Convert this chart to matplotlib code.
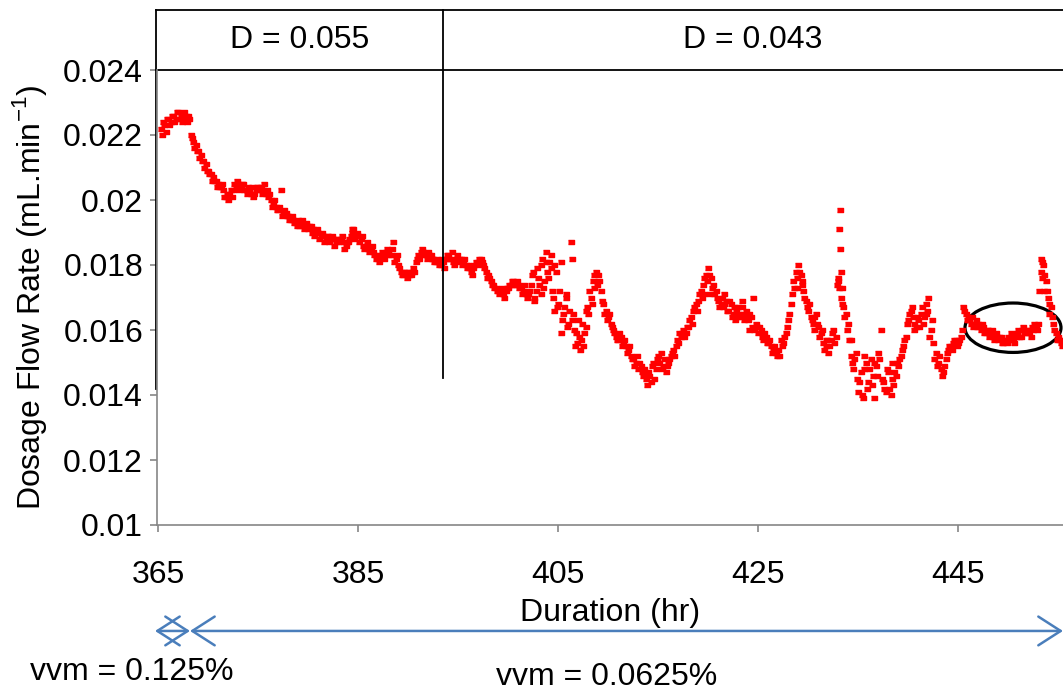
import numpy as np
import matplotlib
matplotlib.use('Agg')
import matplotlib.pyplot as plt
from matplotlib.patches import Ellipse

plt.rcParams['font.family'] = ['Liberation Sans', 'DejaVu Sans']
plt.rcParams['font.size'] = 23

#%% data (logger samples every 0.25 hr, first at 365.25 hr)

t_start = 365.25
t_step = 0.25
flow = [
    0.0222, 0.0224, 0.0221,                      # 365
    0.0225, 0.0224, 0.0226, 0.0225,              # 366
    0.0227, 0.0226, 0.0225, 0.0226,
    0.0226, 0.0220, 0.0218, 0.0217,
    0.0215, 0.0214, 0.0212, 0.0211,
    0.0209, 0.0208, 0.0207, 0.0206,              # 370
    0.0205, 0.0204, 0.0203, 0.0201,
    0.0200, 0.0203, 0.0203, 0.0204,
    0.0205, 0.0204, 0.0205, 0.0203,
    0.0204, 0.0202, 0.0201, 0.0203,
    0.0204, 0.0204, 0.0203, 0.0202,              # 375
    0.0201, 0.0200, 0.0199, 0.0198,
    0.0197, 0.0203, 0.0196, 0.0196,
    0.0195, 0.0194, 0.0194, 0.0193,
    0.0194, 0.0193, 0.0192, 0.0193,
    0.0191, 0.0192, 0.0191, 0.0190,              # 380
    0.0190, 0.0189, 0.0189, 0.0188,
    0.0189, 0.0188, 0.0188, 0.0187,
    0.0188, 0.0188, 0.0187, 0.0186,
    0.0187, 0.0189, 0.0191, 0.0189,
    0.0189, 0.0188, 0.0186, 0.0186,              # 385
    0.0185, 0.0185, 0.0184, 0.0182,
    0.0182, 0.0183, 0.0183, 0.0184,
    0.0184, 0.0183, 0.0187, 0.0182,
    0.0180, 0.0178, 0.0177, 0.0178,
    0.0178, 0.0177, 0.0179, 0.0181,              # 390
    0.0183, 0.0184, 0.0184, 0.0183,
    0.0184, 0.0183, 0.0182, 0.0181,
    0.0181, 0.0180, 0.0181, 0.0182,
    0.0183, 0.0182, 0.0181, 0.0182,
    0.0181, 0.0182, 0.0181, 0.0180,              # 395
    0.0180, 0.0178, 0.0179, 0.0181,
    0.0181, 0.0182, 0.0180, 0.0178,
    0.0177, 0.0175, 0.0174, 0.0173,
    0.0172, 0.0172, 0.0171, 0.0172,
    0.0173, 0.0174, 0.0175, 0.0174,              # 400
    0.0174, 0.0173, 0.0172, 0.0171,
    0.0171, 0.0174, 0.0178, 0.0172,
    0.0176, 0.0180, 0.0173, 0.0181,
    0.0176, 0.0183, 0.0170, 0.0178,
    0.0168, 0.0181, 0.0165, 0.0170,              # 405
    0.0162, 0.0187, 0.0165, 0.0159,
    0.0163, 0.0157, 0.0155, 0.0161,
    0.0165, 0.0170, 0.0175, 0.0178,
    0.0177, 0.0172, 0.0168, 0.0166,
    0.0164, 0.0162, 0.0160, 0.0158,              # 410
    0.0157, 0.0158, 0.0156, 0.0155,
    0.0154, 0.0152, 0.0151, 0.0150,
    0.0148, 0.0149, 0.0146, 0.0145,
    0.0147, 0.0144, 0.0150, 0.0148,
    0.0152, 0.0153, 0.0149, 0.0147,              # 415
    0.0150, 0.0152, 0.0154, 0.0155,
    0.0156, 0.0158, 0.0160, 0.0159,
    0.0161, 0.0164, 0.0166, 0.0168,
    0.0169, 0.0172, 0.0174, 0.0177,
    0.0179, 0.0176, 0.0174, 0.0172,              # 420
    0.0169, 0.0168, 0.0167, 0.0169,
    0.0166, 0.0168, 0.0165, 0.0166,
    0.0167, 0.0164, 0.0165, 0.0166,
    0.0163, 0.0164, 0.0170, 0.0162,
    0.0159, 0.0160, 0.0157, 0.0158,              # 425
    0.0156, 0.0155, 0.0154, 0.0153,
    0.0154, 0.0157, 0.0156, 0.0159,
    0.0163, 0.0168, 0.0175, 0.0178,
    0.0180, 0.0177, 0.0172, 0.0169,
    0.0166, 0.0164, 0.0162, 0.0165,              # 430
    0.0161, 0.0159, 0.0156, 0.0155,
    0.0153, 0.0157, 0.0160, 0.0158,
    0.0176, 0.0170, 0.0167, 0.0165,
    0.0162, 0.0152, 0.0148, 0.0153,
    0.0141, 0.0147, 0.0139, 0.0150,              # 435
    0.0144, 0.0151, 0.0146, 0.0149,
    0.0153, 0.0160, 0.0144, 0.0141,
    0.0147, 0.0140, 0.0143, 0.0146,
    0.0149, 0.0152, 0.0155, 0.0158,
    0.0163, 0.0166, 0.0164, 0.0161,              # 440
    0.0163, 0.0165, 0.0162, 0.0168,
    0.0170, 0.0160, 0.0156, 0.0153,
    0.0150, 0.0148, 0.0147, 0.0151,
    0.0154, 0.0155, 0.0156, 0.0157,
    0.0156, 0.0158, 0.0167, 0.0165,              # 445
    0.0164, 0.0162, 0.0161, 0.0163,
    0.0162, 0.0160, 0.0161, 0.0159,
    0.0160, 0.0159, 0.0158, 0.0159,
    0.0157, 0.0158, 0.0156, 0.0157,
    0.0158, 0.0159, 0.0157, 0.0158,              # 450
    0.0160, 0.0158, 0.0161, 0.0159,
    0.0160, 0.0158, 0.0160, 0.0161,
    0.0162, 0.0178, 0.0180, 0.0175,
    0.0170, 0.0167, 0.0162, 0.0159,
    0.0158, 0.0156, 0.0157,                      # 455
]

# interleaved readings, half a step later (first at 365.375 hr)
t_start_b = 365.375
flow_b = [
    0.0220, 0.0223, 0.0225,                      # 365
    0.0223, 0.0226, 0.0224, 0.0227,
    0.0225, 0.0224, 0.0227, 0.0224,
    0.0225, 0.0219, 0.0216, 0.0215,
    0.0213, 0.0212, 0.0210, 0.0209,
    0.0208, 0.0206, 0.0206, 0.0204,              # 370
    0.0204, 0.0205, 0.0201, 0.0202,
    0.0202, 0.0201, 0.0205, 0.0206,
    0.0203, 0.0205, 0.0203, 0.0202,
    0.0203, 0.0204, 0.0202, 0.0204,
    0.0203, 0.0202, 0.0205, 0.0203,              # 375
    0.0202, 0.0198, 0.0200, 0.0197,
    0.0198, 0.0195, 0.0197, 0.0195,
    0.0194, 0.0195, 0.0193, 0.0192,
    0.0192, 0.0194, 0.0191, 0.0192,
    0.0192, 0.0190, 0.0189, 0.0191,              # 380
    0.0188, 0.0190, 0.0187, 0.0189,
    0.0187, 0.0189, 0.0186, 0.0188,
    0.0187, 0.0189, 0.0185, 0.0187,
    0.0188, 0.0190, 0.0188, 0.0190,
    0.0187, 0.0189, 0.0185, 0.0187,              # 385
    0.0184, 0.0186, 0.0183, 0.0183,
    0.0181, 0.0184, 0.0182, 0.0185,
    0.0183, 0.0185, 0.0181, 0.0183,
    0.0179, 0.0177, 0.0178, 0.0176,
    0.0177, 0.0178, 0.0178, 0.0182,              # 390
    0.0182, 0.0185, 0.0183, 0.0182,
    0.0183, 0.0182, 0.0181, 0.0182,
    0.0180, 0.0182, 0.0179, 0.0183,
    0.0182, 0.0184, 0.0180, 0.0183,
    0.0182, 0.0180, 0.0182, 0.0179,              # 395
    0.0179, 0.0177, 0.0180, 0.0180,
    0.0182, 0.0181, 0.0179, 0.0176,
    0.0176, 0.0174, 0.0173, 0.0172,
    0.0171, 0.0173, 0.0170, 0.0173,
    0.0174, 0.0175, 0.0174, 0.0175,              # 400
    0.0173, 0.0171, 0.0174, 0.0170,
    0.0172, 0.0177, 0.0170, 0.0179,
    0.0174, 0.0182, 0.0175, 0.0178,
    0.0181, 0.0172, 0.0180, 0.0167,
    0.0172, 0.0163, 0.0167, 0.0161,              # 405
    0.0166, 0.0163, 0.0160, 0.0156,
    0.0158, 0.0162, 0.0159, 0.0167,
    0.0172, 0.0168, 0.0177, 0.0174,
    0.0175, 0.0169, 0.0165, 0.0163,
    0.0165, 0.0161, 0.0159, 0.0157,              # 410
    0.0159, 0.0155, 0.0157, 0.0153,
    0.0155, 0.0151, 0.0149, 0.0152,
    0.0150, 0.0147, 0.0148, 0.0143,
    0.0146, 0.0149, 0.0145, 0.0151,
    0.0150, 0.0148, 0.0151, 0.0149,              # 415
    0.0151, 0.0153, 0.0152, 0.0157,
    0.0159, 0.0159, 0.0158, 0.0161,
    0.0163, 0.0162, 0.0167, 0.0166,
    0.0171, 0.0170, 0.0176, 0.0175,
    0.0177, 0.0173, 0.0171, 0.0170,              # 420
    0.0167, 0.0170, 0.0168, 0.0166,
    0.0169, 0.0164, 0.0167, 0.0164,
    0.0165, 0.0167, 0.0163, 0.0164,
    0.0165, 0.0161, 0.0160, 0.0161,
    0.0161, 0.0158, 0.0159, 0.0156,              # 425
    0.0157, 0.0153, 0.0155, 0.0152,
    0.0152, 0.0155, 0.0158, 0.0161,
    0.0165, 0.0171, 0.0173, 0.0176,
    0.0178, 0.0175, 0.0170, 0.0167,
    0.0168, 0.0163, 0.0164, 0.0162,              # 430
    0.0158, 0.0160, 0.0154, 0.0157,
    0.0155, 0.0159, 0.0156, 0.0174,
    0.0173, 0.0168, 0.0164, 0.0160,
    0.0157, 0.0150, 0.0151, 0.0145,
    0.0144, 0.0140, 0.0148, 0.0142,              # 435
    0.0148, 0.0143, 0.0150, 0.0146,
    0.0151, 0.0145, 0.0142, 0.0148,
    0.0142, 0.0145, 0.0147, 0.0150,
    0.0151, 0.0154, 0.0157, 0.0162,
    0.0165, 0.0167, 0.0162, 0.0164,              # 440
    0.0161, 0.0167, 0.0164, 0.0166,
    0.0158, 0.0163, 0.0151, 0.0149,
    0.0152, 0.0146, 0.0149, 0.0153,
    0.0155, 0.0154, 0.0157, 0.0155,
    0.0157, 0.0160, 0.0166, 0.0163,              # 445
    0.0163, 0.0164, 0.0162, 0.0161,
    0.0161, 0.0162, 0.0159, 0.0160,
    0.0158, 0.0160, 0.0157, 0.0158,
    0.0158, 0.0156, 0.0157, 0.0156,
    0.0157, 0.0158, 0.0156, 0.0159,              # 450
    0.0158, 0.0160, 0.0159, 0.0160,
    0.0159, 0.0161, 0.0162, 0.0160,
    0.0172, 0.0181, 0.0177, 0.0172,
    0.0168, 0.0164, 0.0160, 0.0157,
    0.0157, 0.0155,                              # 455
]

# extra scattered readings (spikes, noisy stretches)
extra_hours = [433.0, 433.1, 433.15, 433.2, 433.3, 433.35,
               403.8, 404.3, 404.6, 405.3, 405.8, 406.4, 406.7, 407.2, 407.8, 408.6,
               402.6, 403.3, 435.6, 436.6, 438.4, 434.3,
               453.3, 453.4, 453.6, 454.1,
               421.6, 422.7, 423.4, 424.1, 420.2, 419.6,
               429.4, 428.9, 430.6, 431.8, 440.6, 441.8, 384.4]
extra_flow = [0.0175, 0.0191, 0.0197, 0.0185, 0.0178, 0.0173,
              0.0184, 0.0179, 0.0166, 0.0159, 0.0171, 0.0182, 0.0155, 0.0154, 0.0166, 0.0173,
              0.0169, 0.0171, 0.0152, 0.0139, 0.0150, 0.0157,
              0.0182, 0.0176, 0.0172, 0.0165,
              0.0171, 0.0163, 0.0169, 0.0160, 0.0171, 0.0171,
              0.0174, 0.0173, 0.0160, 0.0157, 0.0160, 0.0165, 0.0191]

hours = t_start + t_step * np.arange(len(flow))
hours_b = t_start_b + t_step * np.arange(len(flow_b))

# dilution phases and aeration phases
phase_edges = [364.8, 393.5, 455.5]
phase_labels = ['D = 0.055', 'D = 0.043']
vvm_edges = [364.7, 368.2, 455.5]
vvm_labels = ['vvm = 0.125%', 'vvm = 0.0625%']

yticks = [0.01, 0.012, 0.014, 0.016, 0.018, 0.02, 0.022, 0.024]
xticks = [365, 385, 405, 425, 445]

#%% plot

fig = plt.figure(figsize=(10.63, 6.92), dpi=100)
ax = fig.add_axes([157/1063, 167/692, 906/1063, 455/692])

dash = [(-1, -0.55), (1, -0.55), (1, 0.55), (-1, 0.55)]
for xs, ys in [(hours, flow), (hours_b, flow_b), (extra_hours, extra_flow)]:
    ax.plot(xs, ys, ls='none', marker=dash, ms=4.3, color='red', mec='red')

ax.set_xlim(364.9, 455.5)
ax.set_ylim(0.01, 0.024)
ax.set_xticks(xticks)
ax.set_yticks(yticks)
ax.set_yticklabels(['0.01', '0.012', '0.014', '0.016', '0.018', '0.02', '0.022', '0.024'])

grey = '#868686'
for s in ['top', 'right']:
    ax.spines[s].set_visible(False)
for s in ['left', 'bottom']:
    ax.spines[s].set_color(grey)
    ax.spines[s].set_linewidth(1.2)
ax.tick_params(axis='both', color=grey, width=1.2, length=5, direction='out')
ax.tick_params(axis='y', pad=5)
ax.tick_params(axis='x', pad=20)

ax.set_xlabel('Duration (hr)', labelpad=6)
ax.set_ylabel('Dosage Flow Rate (mL.min$^{\\mathregular{-1}}$)', labelpad=10)

# phase box above the plot
box_top = 0.02585
ax.plot([phase_edges[0], phase_edges[-1]], [box_top, box_top], color='black', lw=1.3, clip_on=False)
ax.plot([phase_edges[0], phase_edges[-1]], [0.024, 0.024], color='black', lw=1.3, clip_on=False)
ax.plot([phase_edges[0], phase_edges[0]], [0.0142, box_top], color='black', lw=1.3, clip_on=False)
ax.plot([phase_edges[1], phase_edges[1]], [0.01452, box_top], color='black', lw=1.3, clip_on=False)
for i, lab in enumerate(phase_labels):
    ax.text((phase_edges[i] + phase_edges[i+1]) / 2, 0.02493, lab,
            ha='center', va='center', clip_on=False)

# aeration arrows below the axis
blue = '#4a7ebb'
arr_y = 0.00674
for i in range(2):
    ax.annotate('', xy=(vvm_edges[i], arr_y), xytext=(vvm_edges[i+1], arr_y),
                xycoords='data', annotation_clip=False,
                arrowprops=dict(arrowstyle='<->,head_length=0.7,head_width=0.45',
                                color=blue, lw=1.8, shrinkA=0, shrinkB=0))
ax.text(362.4, 0.00548, vvm_labels[0], ha='center', va='center', clip_on=False)
ax.text(409.9, 0.00532, vvm_labels[1], ha='center', va='center', clip_on=False)

# highlighted steady stretch
ax.add_patch(Ellipse((450.5, 0.01607), 9.6, 0.00152, fill=False, ec='black', lw=2.3))

fig.savefig('out.png', dpi=100)
